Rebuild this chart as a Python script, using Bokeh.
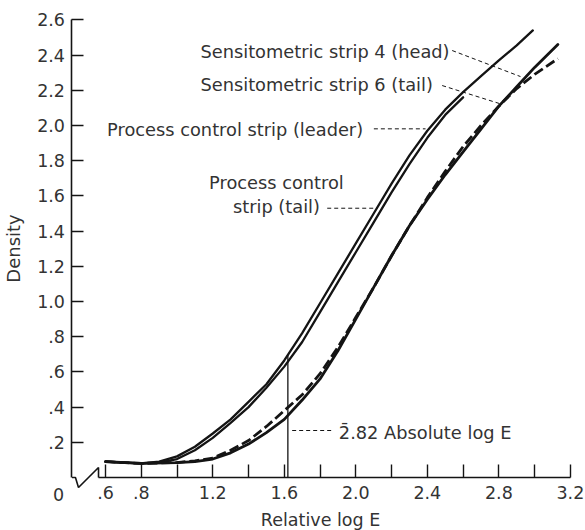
from bokeh.plotting import figure
from bokeh.models import FixedTicker, Label, Range1d
from bokeh.embed import file_html
from bokeh.resources import INLINE

# ---------------- data ----------------
# Process control strip (leader) - left pair, longer line
leader_logE = [0.6, 0.7, 0.8, 0.9, 1.0, 1.1, 1.2, 1.3, 1.4, 1.5, 1.6, 1.7, 1.8, 1.9,
               2.0, 2.1, 2.2, 2.3, 2.4, 2.5, 2.6, 2.7, 2.8, 2.9, 2.99]
leader_dens = [0.09, 0.085, 0.08, 0.09, 0.12, 0.175, 0.25, 0.33, 0.43, 0.53, 0.665, 0.82,
               0.99, 1.16, 1.33, 1.50, 1.67, 1.83, 1.97, 2.09, 2.19, 2.28, 2.37, 2.455, 2.54]

# Process control strip (tail) - left pair, shorter line
tail_logE = [0.6, 0.7, 0.8, 0.9, 1.0, 1.1, 1.2, 1.3, 1.4, 1.5, 1.6, 1.7, 1.8, 1.9,
             2.0, 2.1, 2.2, 2.3, 2.4, 2.5, 2.6]
tail_dens = [0.09, 0.085, 0.08, 0.085, 0.105, 0.155, 0.225, 0.31, 0.40, 0.51, 0.63, 0.77,
             0.94, 1.11, 1.28, 1.45, 1.62, 1.78, 1.93, 2.06, 2.16]

# Sensitometric strip 4 (head) - solid
head_logE = [0.6, 0.8, 1.0, 1.1, 1.2, 1.3, 1.4, 1.5, 1.6, 1.7, 1.8, 1.9, 2.0, 2.1,
             2.2, 2.3, 2.4, 2.5, 2.6, 2.7, 2.8, 2.9, 3.0, 3.13]
head_dens = [0.09, 0.08, 0.085, 0.09, 0.105, 0.14, 0.19, 0.255, 0.33, 0.44, 0.56, 0.72,
             0.90, 1.08, 1.26, 1.43, 1.58, 1.72, 1.85, 1.98, 2.11, 2.22, 2.33, 2.46]

# Sensitometric strip 6 (tail) - dashed
s6_logE = [0.6, 0.8, 1.0, 1.1, 1.2, 1.3, 1.4, 1.5, 1.6, 1.7, 1.8, 1.9, 2.0, 2.1,
           2.2, 2.3, 2.4, 2.5, 2.6, 2.7, 2.8, 2.9, 3.0, 3.13]
s6_dens = [0.09, 0.08, 0.085, 0.095, 0.11, 0.155, 0.21, 0.29, 0.38, 0.47, 0.59, 0.74,
           0.91, 1.08, 1.26, 1.43, 1.59, 1.74, 1.88, 2.00, 2.11, 2.21, 2.29, 2.38]

x_ticks = [0.6, 0.8, 1.0, 1.2, 1.4, 1.6, 1.8, 2.0, 2.2, 2.4, 2.6, 2.8, 3.0, 3.2]
x_tick_labels = [".6", ".8", "", "1.2", "", "1.6", "", "2.0", "", "2.4", "", "2.8", "", "3.2"]
y_ticks = [0.2, 0.4, 0.6, 0.8, 1.0, 1.2, 1.4, 1.6, 1.8, 2.0, 2.2, 2.4, 2.6]
y_tick_labels = [".2", ".4", ".6", ".8", "1.0", "1.2", "1.4", "1.6", "1.8", "2.0", "2.2", "2.4", "2.6"]

# absolute log E marker (relative log E equivalent of 2.82 absolute)
abs_logE = 1.62
abs_dens = 0.70

# ---------------- styling / layout ----------------
FONT = "DejaVu Sans"
TXT = "#333333"
INK = "#141414"
FS = "17.5px"
LFS = "17.8px"

Y_AXIS_AT = 0.4126          # where the density axis stands on the log E scale
X_AXIS_BOUNDS = (0.561, 3.2)


def override_map(ticks, labels):
    m = {}
    for t, lab in zip(ticks, labels):
        m[t] = lab
        m[str(int(t)) if float(t).is_integer() else repr(t)] = lab
    return m


p = figure(width=585, height=530, output_backend="svg", toolbar_location=None,
           title=None,
           x_range=Range1d(0.0128, 3.2846), y_range=Range1d(-0.3011, 2.7102),
           min_border_left=0, min_border_right=0, min_border_top=0, min_border_bottom=0)
p.outline_line_color = None
p.grid.visible = False
p.background_fill_color = "white"
p.border_fill_color = "white"

# x axis
xa = p.xaxis[0]
xa.fixed_location = 0
xa.bounds = X_AXIS_BOUNDS
xa.ticker = FixedTicker(ticks=x_ticks)
xa.major_label_overrides = override_map(x_ticks, x_tick_labels)
xa.major_tick_in = 13
xa.major_tick_out = 0
xa.minor_tick_line_color = None
xa.axis_line_width = 1.6
xa.axis_line_color = INK
xa.major_tick_line_width = 1.4
xa.major_tick_line_color = INK
xa.major_label_text_font = FONT
xa.major_label_text_font_size = FS
xa.major_label_text_color = TXT
xa.major_label_standoff = 8

# y axis
ya = p.yaxis[0]
ya.fixed_location = Y_AXIS_AT
ya.bounds = (0, 2.6)
ya.ticker = FixedTicker(ticks=y_ticks)
ya.major_label_overrides = override_map(y_ticks, y_tick_labels)
ya.major_tick_in = 12
ya.major_tick_out = 0
ya.minor_tick_line_color = None
ya.axis_line_width = 1.6
ya.axis_line_color = INK
ya.major_tick_line_width = 1.4
ya.major_tick_line_color = INK
ya.major_label_text_font = FONT
ya.major_label_text_font_size = FS
ya.major_label_text_color = TXT
ya.major_label_standoff = 7
ya.axis_label = "Density"
ya.axis_label_text_font = FONT
ya.axis_label_text_font_size = "18px"
ya.axis_label_text_font_style = "normal"
ya.axis_label_text_color = TXT
ya.axis_label_standoff = 10

# axis break symbol at the origin
p.line([Y_AXIS_AT, 0.432, 0.449, X_AXIS_BOUNDS[0], X_AXIS_BOUNDS[0]], [0, 0, -0.057, 0.057, 0],
       line_color=INK, line_width=1.6)

# curves
p.line(leader_logE, leader_dens, line_color=INK, line_width=2.3, line_join="round", line_cap="round")
p.line(tail_logE, tail_dens, line_color=INK, line_width=2.3, line_join="round", line_cap="round")
p.line(head_logE, head_dens, line_color=INK, line_width=2.8, line_join="round", line_cap="round")
p.line(s6_logE, s6_dens, line_color=INK, line_width=2.8, line_dash="10 4", line_join="round")

# absolute log E marker
p.line([abs_logE, abs_logE], [0, abs_dens], line_color=INK, line_width=1.3)

# annotation leaders (dashed)
leaders = [
    ([2.539, 2.921], [2.426, 2.278]),
    ([2.483, 2.809], [2.227, 2.123]),
    ([2.101, 2.390], [1.981, 1.981]),
    ([1.840, 2.120], [1.530, 1.530]),
    ([1.644, 1.877], [0.267, 0.267]),
]
for xs, ys in leaders:
    p.line(xs, ys, line_color=INK, line_width=1.0, line_dash="4 3")

labels = [
    ("Sensitometric strip 4 (head)", 1.131, 2.422, "left", LFS),
    ("Sensitometric strip 6 (tail)", 1.131, 2.233, "left", LFS),
    ("Process control strip (leader)", 0.609, 1.977, "left", LFS),
    ("Process control", 1.556, 1.674, "center", LFS),
    ("strip (tail)", 1.556, 1.541, "center", LFS),
    ("2\u0304.82 Absolute log E", 1.905, 0.254, "left", LFS),
    ("0", 0.337, -0.097, "center", FS),
    ("Relative log E", 1.803, -0.244, "center", FS),
]
for t, x, y, al, fs in labels:
    p.add_layout(Label(x=x, y=y, text=t, text_font=FONT, text_font_size=fs,
                       text_color=TXT, text_align=al, text_baseline="alphabetic"))

open("out.html", "w").write(file_html(p, INLINE))
